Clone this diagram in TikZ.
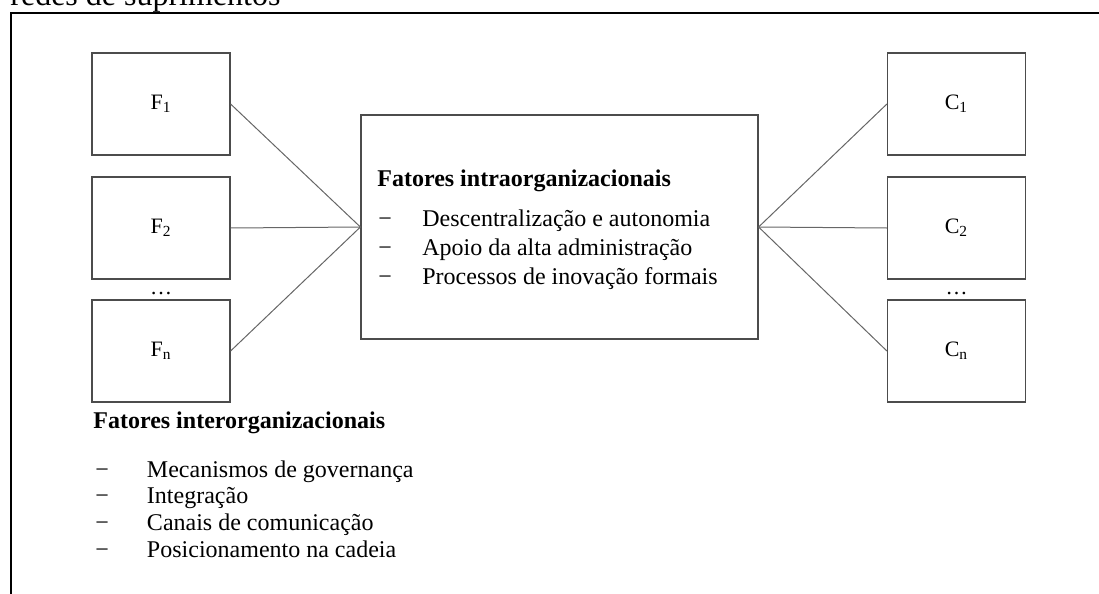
\documentclass[tikz,border=0pt]{standalone}
\usepackage{fontspec}
\setmainfont{Liberation Serif}
\begin{document}
\begin{tikzpicture}[x=0.5pt, y=-0.5pt]
        \tikzset{Ent/.style={shape=rectangle, draw=black!70, line width=0.6pt, minimum width=69pt, minimum height=51pt, inner sep=0pt, font=\fontsize{11}{13}\selectfont}}
        \tikzset{Core/.style={shape=rectangle, draw=black!70, line width=0.6pt, minimum width=198.5pt, minimum height=112pt, inner sep=0pt}}
        \tikzset{Txt/.style={anchor=base west, inner sep=0pt, font=\fontsize{12}{14}\selectfont}}
        \tikzset{Head/.style={Txt, font=\fontsize{12}{14}\selectfont\bfseries}}
        \tikzset{Link/.style={draw=black!60, line width=0.5pt}}

        \useasboundingbox (0,0) rectangle (1099,594);

        % frame
        \node[anchor=base west, inner sep=0pt, font=\fontsize{16}{18}\selectfont] (title) at (10,5) {redes de suprimentos};
        \coordinate (tr) at (1099,13);
        \coordinate (tl) at (11,13);
        \coordinate (bl) at (11,594);
        \draw[line width=0.7pt] (tr) -- (tl) -- (bl);

        % nodes
        \node[Ent] (f1) at (161,104) {F\textsubscript{1}};
        \node[Ent] (f2) at (161,228) {F\textsubscript{2}};
        \node[Ent] (fn) at (161,351) {F\textsubscript{n}};
        \node[anchor=base, inner sep=0pt, font=\fontsize{11}{13}\selectfont] (fdots) at (161,294) {…};

        \node[Ent] (c1) at (956.5,104) {C\textsubscript{1}};
        \node[Ent] (c2) at (956.5,228) {C\textsubscript{2}};
        \node[Ent] (cn) at (956.5,351) {C\textsubscript{n}};
        \node[anchor=base, inner sep=0pt, font=\fontsize{11}{13}\selectfont] (cdots) at (956.5,294) {…};

        \node[Core] (core) at (559.5,227) {};

        % texts
        \node[Head] (intra) at (377,186) {Fatores intraorganizacionais};
        \node[Txt] (intra1) at (378,226) {\makebox[22pt][l]{−}Descentralização e autonomia};
        \node[Txt] (intra2) at (378,255) {\makebox[22pt][l]{−}Apoio da alta administração};
        \node[Txt] (intra3) at (378,284) {\makebox[22pt][l]{−}Processos de inovação formais};

        \node[Head] (inter) at (93,428) {Fatores interorganizacionais};
        \node[Txt] (inter1) at (95,477) {\makebox[25.8pt][l]{−}Mecanismos de governança};
        \node[Txt] (inter2) at (95,503.7) {\makebox[25.8pt][l]{−}Integração};
        \node[Txt] (inter3) at (95,530.3) {\makebox[25.8pt][l]{−}Canais de comunicação};
        \node[Txt] (inter4) at (95,557) {\makebox[25.8pt][l]{−}Posicionamento na cadeia};

        % lines
        \draw[Link] (f1.east) -- (core.west);
        \draw[Link] (f2.east) -- (core.west);
        \draw[Link] (fn.east) -- (core.west);
        \draw[Link] (core.east) -- (c1.west);
        \draw[Link] (core.east) -- (c2.west);
        \draw[Link] (core.east) -- (cn.west);
    \end{tikzpicture}
\end{document}
